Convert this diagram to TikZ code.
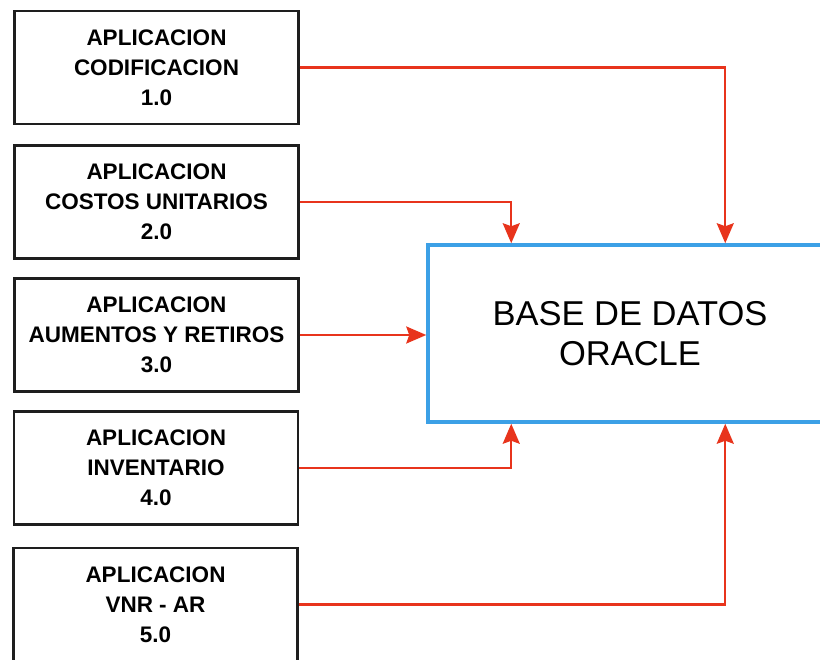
\documentclass[tikz,border=0pt]{standalone}
\usepackage{fontspec}
\setmainfont{Liberation Sans}
\usetikzlibrary{arrows.meta,calc}
\definecolor{arrred}{RGB}{232,52,28}
\definecolor{dbblue}{RGB}{60,160,230}
\definecolor{boxline}{RGB}{30,30,30}
\tikzset{
  appbox/.style={draw=boxline,line width=2.2pt,fill=white,minimum width=284pt,minimum height=113pt,
    align=center,inner sep=0pt,font=\bfseries\fontsize{22.5}{30}\selectfont},
  dbbox/.style={draw=dbblue,line width=3.5pt,fill=white,minimum width=404pt,minimum height=177pt,
    align=center,inner sep=0pt,font=\fontsize{34.5}{40}\selectfont},
  conn/.style={draw=arrred,line width=2.2pt,-{Stealth[length=20pt,width=17pt,inset=3pt]}}
}
\begin{document}
\begin{tikzpicture}[x=1pt,y=-1pt]
\clip (0,0) rectangle (820,660);
\fill[white] (0,0) rectangle (820,660);
\node[appbox] (b1) at (156.5,67.5) {APLICACION\\CODIFICACION\\1.0};
\node[appbox] (b2) at (156.5,202) {APLICACION\\COSTOS UNITARIOS\\2.0};
\node[appbox] (b3) at (156.5,335) {APLICACION\\AUMENTOS Y RETIROS\\3.0};
\node[appbox] (b4) at (156,468) {APLICACION\\INVENTARIO\\4.0};
\node[appbox] (b5) at (155.5,604.5) {APLICACION\\VNR - AR\\5.0};
\node[dbbox] (db) at (630,333.5) {BASE DE DATOS\\ORACLE};
\coordinate (t1) at ($(db.north west)+(299,0)$);
\coordinate (t2) at ($(db.north west)+(85,0)$);
\coordinate (u1) at ($(db.south west)+(85,0)$);
\coordinate (u2) at ($(db.south west)+(299,0)$);
\draw[conn] (b1.east) -| (t1);
\draw[conn] (b2.east) -| (t2);
\draw[conn] (b3.east) -- (b3.east -| db.west);
\draw[conn] (b4.east) -| (u1);
\draw[conn] (b5.east) -| (u2);
\end{tikzpicture}
\end{document}
